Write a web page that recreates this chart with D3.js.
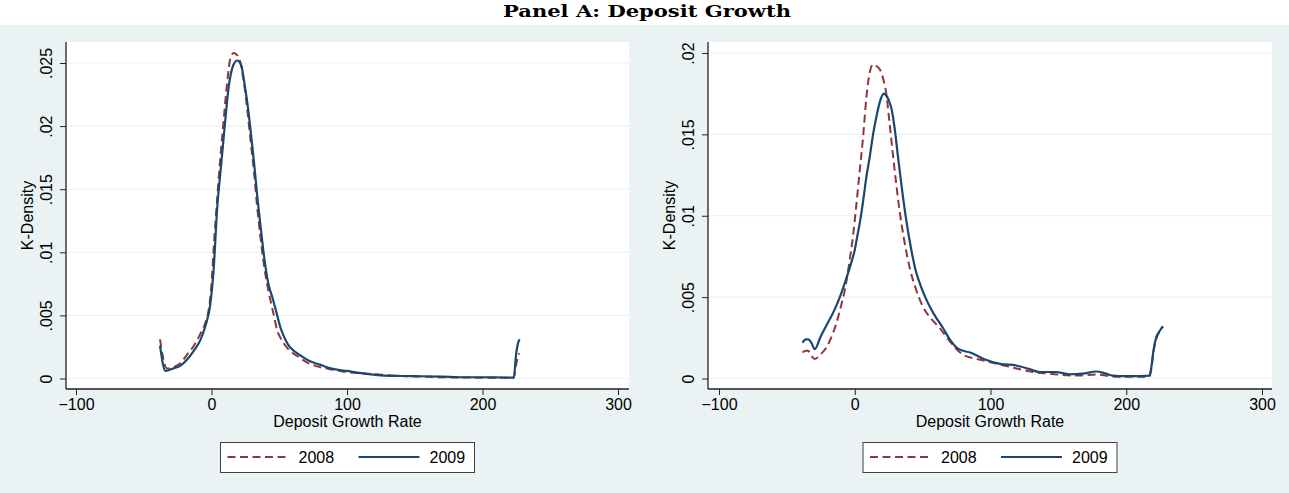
<!DOCTYPE html>
<html>
  <head>
    <meta charset="utf-8">
    <title>Panel A: Deposit Growth</title>
    <style>
      body { margin: 0; background: #ffffff; }
      .axis text { font-family: "Liberation Sans", Arial, sans-serif; font-size: 16px; fill: #000; }
      .axis line { stroke: #222; stroke-width: 1; }
      .lbl { font-family: "Liberation Sans", Arial, sans-serif; font-size: 16px; }
      .title { font-family: "DejaVu Serif", "Liberation Serif", serif; font-weight: bold; font-size: 17px; }
    </style>
  </head>
  <body>
    <script src="https://cdn.jsdelivr.net/npm/d3@7/dist/d3.min.js"></script>
    <script>
    var width = 1289;
    var height = 493;

    // data
    var xTicks = [-100, 0, 100, 200, 300];
    var leftYTicks = [0, 0.005, 0.01, 0.015, 0.02, 0.025];
    var rightYTicks = [0, 0.005, 0.01, 0.015, 0.02];
    var seriesNames = ["2008", "2009"];

    // left panel, [growth rate, density]
    var left2008 = [[-38, .0031], [-33, .0008], [-28, .0009], [-23, .0012], [-18, .0019], [-13, .0026],
      [-8, .0036], [-4, .0046], [-2, .0055], [0, .0075], [1.7, .0105], [4, .0140], [6.6, .0176],
      [9, .0205], [11.6, .0235], [14, .0254], [16.5, .0258], [19, .0256], [21.4, .0250], [24, .0234],
      [26.5, .0212], [28.8, .0189], [31.5, .0162], [33.7, .0136], [36, .0113], [38.6, .0091],
      [41, .0075], [43.5, .0062], [46, .0050], [48.5, .0038], [51, .0032], [56, .0024], [63, .0018],
      [70, .0013], [80, .0009], [90, .0007], [100, .0005], [112, .0004], [125, .0003], [140, .0002],
      [155, .00015], [170, .0001], [185, .00008], [200, .00006], [215, .00005], [223, .00005],
      [225, .0012], [227, .0020]];
    var left2009 = [[-38, .0026], [-34, .0006], [-28, .0008], [-23, .0010], [-18, .0015], [-13, .0022],
      [-8, .0031], [-4.4, .0042], [-1, .0058], [1.5, .0085], [4.2, .0135], [7, .0168], [9.5, .0197],
      [12.8, .0232], [16, .0248], [19, .0252], [22, .0248], [24, .0236], [26.5, .0218], [29, .0195],
      [31.5, .0170], [34, .0142], [36.5, .0118], [39, .0095], [42, .0075], [45, .0064], [48, .0052],
      [51, .0040], [54, .0032], [57, .0026], [62, .0021], [66, .0018], [72, .0014], [80, .0011],
      [88, .0008], [100, .0006], [112, .0004], [125, .00025], [140, .0002], [155, .00018],
      [170, .00015], [185, .0001], [200, .0001], [215, .00008], [223, .00007], [225, .0021],
      [226.5, .0029], [227.5, .0031]];

    // right panel
    var right2008 = [[-38.5, .0016], [-36, .0017], [-34.4, .0017], [-32, .0014], [-29.5, .0012],
      [-25, .0015], [-20.9, .0019], [-16, .0028], [-13.5, .0034], [-10, .0045], [-7.4, .0054],
      [-3.7, .0073], [-1.2, .0088], [1.2, .0107], [3.7, .0128], [6.1, .0148], [8.6, .0173],
      [11, .0188], [13.5, .0193], [16, .0192], [18.4, .0190], [21, .0184], [23.4, .0174],
      [25.5, .0158], [28.2, .0137], [30.5, .0120], [33.2, .0102], [36, .0087], [40.5, .0068],
      [45, .0055], [50.3, .0044], [56, .0037], [62.6, .0031], [68, .0025], [75, .0018], [81, .0014],
      [90, .0012], [100, .0010], [110, .0008], [120, .0006], [131, .0004], [143, .0003],
      [155.7, .0002], [165, .00018], [178, .00025], [190, .00012], [200, .0001], [210, .0001],
      [217, .0001], [218.5, .0006], [220, .0016], [222, .0024], [224.5, .0029], [227, .0032]];
    var right2009 = [[-38.5, .0022], [-36, .0024], [-34.4, .0024], [-32, .0022], [-29.5, .0018],
      [-25, .0026], [-20, .0034], [-15, .0042], [-11, .0050], [-6, .0062], [-3, .0070], [0, .0079],
      [2, .0088], [4, .0097], [6, .0108], [8.6, .0124], [11, .0136], [13.5, .0150], [16, .0161],
      [18.5, .0170], [21.4, .0175], [23, .0174], [25, .0171], [27, .0166], [29.5, .0153],
      [31.9, .0136], [35, .0115], [38, .0097], [41, .0082], [45, .0066], [49, .0056], [53, .0048],
      [58, .0040], [65, .0031], [70, .0024], [75, .0019], [80, .0017], [85, .0016], [95, .0012],
      [107, .0009], [119, .0008], [128, .0006], [136, .0004], [148, .0004], [158, .00026],
      [168, .0003], [178, .00043], [185, .0003], [190, .00018], [200, .00014], [210, .00015],
      [217, .00018], [218.5, .0007], [220, .0017], [222, .0025], [224.5, .0029], [227, .0032]];

    var red = "#90353b";
    var navy = "#1a476f";

    var svg = d3.select("body")
      .append("svg")
      .attr("width", width).attr("height", height);

    svg.append("rect").attr("width", width).attr("height", height).attr("fill", "#eaf2f3");
    svg.append("rect").attr("width", width).attr("height", 25).attr("fill", "#ffffff");

    svg.append("text")
      .attr("class", "title")
      .attr("x", 647).attr("y", 17)
      .attr("text-anchor", "middle")
      .attr("textLength", 288)
      .attr("lengthAdjust", "spacingAndGlyphs")
      .text("Panel A: Deposit Growth");

    var panels = [
      { left: 66, right: 629, top: 42, bottom: 389, xRange: [76, 618], yRange: [378.5, 63],
        yMax: 0.025, yTicks: leftYTicks, s2008: left2008, s2009: left2009 },
      { left: 708, right: 1272, top: 42, bottom: 389, xRange: [719, 1262], yRange: [378.5, 53],
        yMax: 0.02, yTicks: rightYTicks, s2008: right2008, s2009: right2009 }
    ];

    function fmt(d) {
      return d === 0 ? "0" : String(d).replace(/^0/, "");
    }

    panels.forEach(function(p) {
      var x = d3.scaleLinear().domain([-100, 300]).range(p.xRange);
      var y = d3.scaleLinear().domain([0, p.yMax]).range(p.yRange);

      // plot region
      svg.append("rect")
        .attr("x", p.left).attr("y", p.top)
        .attr("width", p.right - p.left).attr("height", p.bottom - p.top)
        .attr("fill", "#ffffff");

      // grid
      svg.append("g").selectAll("line")
        .data(p.yTicks)
        .enter()
        .append("line")
        .attr("x1", p.left).attr("x2", p.right)
        .attr("y1", d => y(d)).attr("y2", d => y(d))
        .attr("stroke", "#eaf2f3").attr("stroke-width", 1.2);

      var line = d3.line()
        .x(d => x(d[0]))
        .y(d => y(d[1]))
        .curve(d3.curveMonotoneX);

      svg.append("path")
        .datum(p.s2008)
        .attr("d", line)
        .attr("fill", "none")
        .attr("stroke", red)
        .attr("stroke-width", 2)
        .attr("stroke-dasharray", "8,4.5");

      svg.append("path")
        .datum(p.s2009)
        .attr("d", line)
        .attr("fill", "none")
        .attr("stroke", navy)
        .attr("stroke-width", 2.2);

      // axes
      var yAxis = d3.axisLeft(y).tickValues(p.yTicks).tickFormat(fmt).tickSize(6).tickSizeOuter(0);
      var gy = svg.append("g")
        .attr("class", "axis")
        .attr("transform", "translate(" + p.left + ",0)")
        .call(yAxis);
      gy.select(".domain").remove();
      gy.selectAll(".tick text")
        .attr("x", 0).attr("y", 0).attr("dy", 0)
        .attr("text-anchor", "middle")
        .attr("transform", "translate(-14,0) rotate(-90)");

      var xAxis = d3.axisBottom(x).tickValues(xTicks).tickSize(6).tickSizeOuter(0);
      var gx = svg.append("g")
        .attr("class", "axis")
        .attr("transform", "translate(0," + p.bottom + ")")
        .call(xAxis);
      gx.select(".domain").remove();
      gx.selectAll(".tick text").attr("y", 10);

      svg.append("line")
        .attr("x1", p.left).attr("x2", p.left)
        .attr("y1", p.top).attr("y2", p.bottom)
        .attr("stroke", "#222").attr("stroke-width", 1.3);
      svg.append("line")
        .attr("x1", p.left).attr("x2", p.right)
        .attr("y1", p.bottom).attr("y2", p.bottom)
        .attr("stroke", "#222").attr("stroke-width", 1.3);

      // axis titles
      var cx = (p.left + p.right) / 2;
      svg.append("text")
        .attr("class", "lbl")
        .attr("transform", "translate(" + (p.left - 33) + "," + ((p.top + p.bottom) / 2) + ") rotate(-90)")
        .attr("text-anchor", "middle")
        .text("K-Density");
      svg.append("text")
        .attr("class", "lbl")
        .attr("x", cx).attr("y", 427)
        .attr("text-anchor", "middle")
        .text("Deposit Growth Rate");

      // legend
      var lg = svg.append("g").attr("transform", "translate(" + cx + ",0)");
      lg.append("rect")
        .attr("x", -127).attr("y", 442.5)
        .attr("width", 254).attr("height", 30)
        .attr("fill", "#ffffff").attr("stroke", "#404040").attr("stroke-width", 1);
      var items = [
        { name: seriesNames[0], color: red, dash: "8,4.5", x0: -120 },
        { name: seriesNames[1], color: navy, dash: null, x0: 11 }
      ];
      items.forEach(function(it) {
        lg.append("line")
          .attr("x1", it.x0).attr("x2", it.x0 + 61)
          .attr("y1", 457).attr("y2", 457)
          .attr("stroke", it.color).attr("stroke-width", 2)
          .attr("stroke-dasharray", it.dash);
        lg.append("text")
          .attr("class", "lbl")
          .attr("x", it.x0 + 71).attr("y", 462.5)
          .text(it.name);
      });
    });
    </script>
  </body>
</html>
